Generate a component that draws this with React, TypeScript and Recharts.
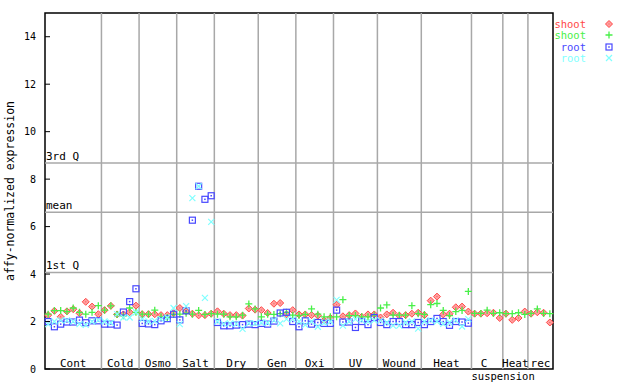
import React from 'react';
import {
  ScatterChart, Scatter, XAxis, YAxis, ReferenceLine, ReferenceArea, Legend,
} from 'recharts';

const groups = ['Cont', 'Cold', 'Osmo', 'Salt', 'Dry', 'Gen', 'Oxi', 'UV', 'Wound', 'Heat', 'C suspension', 'Heat', 'rec'];
const groupSizes = [9, 6, 6, 6, 7, 6, 6, 7, 7, 8, 5, 4, 4];

const shoot1 = [
  2.27, 2.45, 2.2, 2.43, 2.52, 2.35, 2.83, 2.63, 2.31,
  2.48, 2.66, 2.3, 2.3, 2.39, 2.67,
  2.31, 2.31, 2.31, 2.27, 2.27, 2.35,
  2.57, 2.43, 2.33, 2.26, 2.27, 2.33,
  2.43, 2.33, 2.27, 2.27, 2.25, 2.55, 2.5,
  2.48, 2.36, 2.75, 2.78, 2.3, 2.48,
  2.3, 2.3, 2.27, 2.25, 2.05, 2.15,
  2.71, 2.22, 2.27, 2.34, 2.2, 2.3, 2.3,
  2.17, 2.3, 2.37, 2.25, 2.27, 2.33, 2.37,
  2.27, 2.88, 3.05, 2.3, 2.33, 2.6, 2.63, 2.42,
  2.33, 2.33, 2.35, 2.37, 2.15,
  2.33, 2.07, 2.15, 2.42,
  2.33, 2.39, 2.37, 1.96,
];
const shoot2 = [
  2.31, 2.46, 2.46, 2.42, 2.57, 2.39, 2.31, 2.39, 2.67,
  2.48, 2.66, 2.3, 2.24, 2.57, 2.39,
  2.31, 2.31, 2.48, 2.2, 2.17, 2.3,
  2.31, 2.35, 2.31, 2.47, 2.3, 2.33,
  2.31, 2.31, 2.2, 2.2, 2.27, 2.74, 2.53,
  2.2, 2.31, 2.3, 2.33, 2.39, 2.27,
  2.25, 2.3, 2.53, 2.31, 2.2, 2.2,
  2.2, 2.92, 2.25, 2.25, 2.2, 2.2, 2.27,
  2.57, 2.7, 2.27, 2.27, 2.27, 2.67, 2.33,
  2.3, 2.71, 2.76, 2.47, 2.25, 2.42, 2.47, 3.27,
  2.34, 2.34, 2.48, 2.34, 2.37,
  2.33, 2.33, 2.37, 2.3,
  2.34, 2.53, 2.34, 2.33,
];
const root1 = [
  2.0, 1.78, 1.89, 1.98, 1.98, 2.06, 1.95, 2.03, 2.03,
  1.89, 1.89, 1.85, 2.4, 2.84, 3.38,
  1.92, 1.9, 1.87, 2.03, 2.12, 2.31,
  2.07, 2.45, 6.27, 7.7, 7.15, 7.3,
  1.96, 1.82, 1.82, 1.85, 1.87, 1.89, 1.87,
  1.92, 1.89, 2.02, 2.36, 2.39, 2.0,
  1.78, 2.03, 1.89, 1.96, 1.92, 1.92,
  2.48, 1.98, 1.98, 1.75, 2.0, 1.87, 2.17,
  1.96, 1.87, 2.0, 2.0, 1.87, 1.87, 1.96,
  1.87, 2.0, 2.13, 2.0, 1.84, 2.0, 1.98, 1.93,
];
const root2 = [
  1.89, 2.0, 2.05, 2.05, 2.0, 1.89, 1.86, 2.0, 2.05,
  2.0, 1.95, 2.31, 2.17, 2.17, 2.39,
  2.1, 2.0, 2.03, 2.1, 2.17, 2.57,
  1.89, 2.65, 7.2, 7.7, 3.0, 6.2,
  2.0, 1.9, 1.92, 1.9, 1.69, 1.92, 1.92,
  1.95, 1.95, 2.05, 1.92, 2.1, 2.1,
  2.0, 1.86, 2.0, 1.78, 1.95, 2.0,
  2.91, 1.83, 2.0, 2.1, 2.05, 2.0, 2.05,
  2.05, 1.96, 1.83, 1.83, 1.96, 2.0, 1.7,
  2.0, 2.05, 2.0, 1.9, 1.96, 2.05, 1.79, 2.1,
];

const yTicks = [0, 2, 4, 6, 8, 10, 12, 14];
const quartiles = [
  { label: '3rd Q', value: 8.68 },
  { label: 'mean', value: 6.6 },
  { label: '1st Q', value: 4.07 },
];

const RED = '#ff4848';
const GREEN = '#48f048';
const BLUE = '#4848ff';
const CYAN = '#80ffff';
const GRID = '#a8a8a8';
const FONT = '"DejaVu Sans Mono", monospace';

const total = groupSizes.reduce((a, b) => a + b, 0);
const boundaries: number[] = [];
const centers: number[] = [];
{
  let acc = 0;
  groupSizes.forEach((n, i) => {
    centers.push(acc + n / 2);
    acc += n;
    if (i < groupSizes.length - 1) boundaries.push(acc);
  });
}

const toPoints = (vals: number[]) => vals.map((v, i) => ({ x: i + 0.5, y: v }));

const Diamond = (p: any) => {
  const { cx, cy } = p;
  const r = 3.5;
  return (
    <g>
      <polygon points={`${cx},${cy - r} ${cx + r},${cy} ${cx},${cy + r} ${cx - r},${cy}`} fill="#ffa0a0" stroke={RED} strokeWidth={1} />
      <rect x={cx - 0.5} y={cy - 0.5} width={1} height={1} fill={RED} />
    </g>
  );
};
const Plus = (p: any) => {
  const { cx, cy } = p;
  const r = 3.5;
  return <path d={`M${cx - r},${cy}H${cx + r}M${cx},${cy - r}V${cy + r}`} stroke={GREEN} strokeWidth={1.3} fill="none" />;
};
const Square = (p: any) => {
  const { cx, cy } = p;
  return (
    <g>
      <rect x={cx - 3} y={cy - 3} width={6} height={6} fill="none" stroke={BLUE} strokeWidth={1.2} />
      <rect x={cx - 0.75} y={cy - 0.75} width={1.5} height={1.5} fill={BLUE} />
    </g>
  );
};
const Cross = (p: any) => {
  const { cx, cy } = p;
  const r = 3;
  return <path d={`M${cx - r},${cy - r}L${cx + r},${cy + r}M${cx - r},${cy + r}L${cx + r},${cy - r}`} stroke={CYAN} strokeWidth={1.2} fill="none" />;
};

const legendItems = [
  { name: 'shoot', color: RED, shape: 'diamond' },
  { name: 'shoot', color: GREEN, shape: 'plus' },
  { name: 'root', color: BLUE, shape: 'square' },
  { name: 'root', color: CYAN, shape: 'cross' },
];

const LegendContent = () => (
  <div style={{ fontFamily: FONT, fontSize: 10.5 }}>
    {legendItems.map((it, i) => (
      <div key={i} style={{ display: 'flex', alignItems: 'center', height: 11.5, overflow: 'visible' }}>
        <span style={{ width: 46, textAlign: 'right', color: it.color, lineHeight: '10px', height: 10 }}>{it.name}</span>
        <svg width={10} height={10} style={{ marginLeft: 18 }}>
          {it.shape === 'diamond' && <Diamond cx={5} cy={5} />}
          {it.shape === 'plus' && <Plus cx={5} cy={5} />}
          {it.shape === 'square' && <Square cx={5} cy={5} />}
          {it.shape === 'cross' && <Cross cx={5} cy={5} />}
        </svg>
      </div>
    ))}
  </div>
);

const LeftTick = (p: any) => {
  const { x, y, payload } = p;
  return (
    <g>
      <line x1={x} x2={x + 5} y1={y} y2={y} stroke="#000" />
      <text x={x - 9} y={y + 3.5} textAnchor="end" fontFamily={FONT} fontSize={10} fill="#000">{payload.value}</text>
    </g>
  );
};
const RightTick = (p: any) => {
  const { x, y } = p;
  return <line x1={x - 6} x2={x} y1={y} y2={y} stroke="#000" />;
};
const XTick = (p: any) => {
  const { x, y, payload } = p;
  const idx = centers.indexOf(payload.value);
  const label = groups[idx] ?? '';
  const parts = label.split(' ');
  if (parts.length > 1) {
    return (
      <g fontFamily={FONT} fill="#000">
        <text x={x - 3} y={y - 2} textAnchor="middle" fontSize={11}>{parts[0]}</text>
        <text x={x + 16} y={y + 11} textAnchor="middle" fontSize={10.5}>{parts[1]}</text>
      </g>
    );
  }
  return <text x={x} y={y - 2} textAnchor="middle" fontFamily={FONT} fontSize={11} fill="#000">{label}</text>;
};

export default function App() {
  return (
    <div style={{ position: 'absolute', left: 0, top: 0, background: '#fff' }}>
      <ScatterChart width={640} height={384} margin={{ top: 13, right: 81, bottom: 0, left: 0 }}>
        <XAxis type="number" dataKey="x" domain={[0, total]} ticks={centers} interval={0}
          height={15} tickSize={0} tickMargin={0} axisLine={false} tickLine={false} tick={<XTick />} />
        <YAxis type="number" dataKey="y" domain={[0, 15]} ticks={yTicks} interval={0} width={45}
          tickSize={0} tickMargin={0} axisLine={false} tickLine={false} tick={<LeftTick />}
          label={{
            content: (lp: any) => {
              const vb = lp.viewBox || {};
              const cx = (vb.x ?? 0) + 10;
              const cy = (vb.y ?? 13) + (vb.height ?? 356) / 2;
              return (
                <text x={cx} y={cy} transform={`rotate(-90 ${cx} ${cy})`} textAnchor="middle" dominantBaseline="central"
                  fontFamily={FONT} fontSize={11.5} fill="#000">affy-normalized expression</text>
              );
            },
          }} />
        <YAxis yAxisId="right" orientation="right" type="number" domain={[0, 15]} ticks={yTicks} interval={0} width={6}
          tickSize={0} tickMargin={0} axisLine={false} tickLine={false} tick={<RightTick />} />
        {boundaries.map((b) => (
          <ReferenceLine key={`b${b}`} x={b} stroke={GRID} strokeWidth={1.5} />
        ))}
        {quartiles.map((q) => (
          <ReferenceLine key={q.label} y={q.value} stroke={GRID} strokeWidth={1.5}
            label={{
              content: (lp: any) => {
                const vb = lp.viewBox || {};
                return <text x={(vb.x ?? 45) + 1} y={(vb.y ?? 0) - 3} fontFamily={FONT} fontSize={11} fill="#000">{q.label}</text>;
              },
            }} />
        ))}
        <ReferenceArea x1={0} x2={total} y1={0} y2={15} fill="none" stroke="#000" strokeWidth={1.5} />
        <Scatter name="shoot" data={toPoints(shoot1)} shape={Diamond} isAnimationActive={false} />
        <Scatter name="shoot" data={toPoints(shoot2)} shape={Plus} isAnimationActive={false} />
        <Scatter name="root" data={toPoints(root1)} shape={Square} isAnimationActive={false} />
        <Scatter name="root" data={toPoints(root2)} shape={Cross} isAnimationActive={false} />
        <Legend layout="vertical" align="center" verticalAlign="middle" content={<LegendContent />}
          wrapperStyle={{ left: 540, top: 18, width: 100, height: 50 }} />
      </ScatterChart>
    </div>
  );
}
